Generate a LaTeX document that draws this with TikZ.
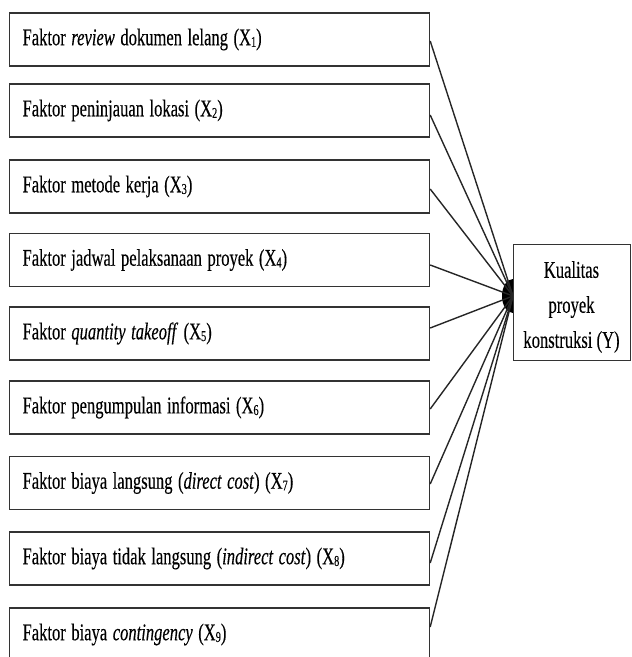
\documentclass[tikz,border=0pt]{standalone}
\usepackage{fontspec}
\usepackage{graphicx}
\setmainfont[FakeBold=0.3]{Liberation Serif}
\usetikzlibrary{shapes.geometric}
\newcommand{\xsub}[1]{\raisebox{-0.15ex}{\fontsize{15pt}{15pt}\selectfont #1}}
\newcommand{\sq}[1]{\scalebox{0.69}[1]{#1}}
\tikzset{
  factor/.style={draw=black!80, line width=1.2pt, anchor=west, minimum height=53pt,
    text width=394pt, inner xsep=13pt, align=left, font=\fontsize{24pt}{28pt}\selectfont},
  result/.style={draw=black!80, line width=1.2pt, fill=white, anchor=north west, minimum height=116pt,
    minimum width=117pt},
  resulttext/.style={align=center, inner sep=0pt, font=\fontsize{24pt}{35pt}\selectfont},
  link/.style={draw=black!85, line width=1.4pt}
}
\begin{document}
\begin{tikzpicture}[x=1pt,y=-1pt]
\useasboundingbox (0,0) rectangle (632,657);
\clip (0,0) rectangle (632,657);
\node[factor] (x1) at (9,39.5) {\sq{Faktor \textit{review} dokumen lelang (X\xsub{1})}};
\node[factor] (x2) at (9,110.5) {\sq{Faktor peninjauan lokasi (X\xsub{2})}};
\node[factor] (x3) at (9,186.5) {\sq{Faktor metode kerja (X\xsub{3})}};
\node[factor] (x4) at (9,260) {\sq{Faktor jadwal pelaksanaan proyek (X\xsub{4})}};
\node[factor] (x5) at (9,333.5) {\sq{Faktor \textit{quantity takeoff} (X\xsub{5})}};
\node[factor] (x6) at (9,407.5) {\sq{Faktor pengumpulan informasi (X\xsub{6})}};
\node[factor] (x7) at (9,483) {\sq{Faktor biaya langsung (\textit{direct cost}) (X\xsub{7})}};
\node[factor] (x8) at (9,558.5) {\sq{Faktor biaya tidak langsung (\textit{indirect cost}) (X\xsub{8})}};
\node[factor] (x9) at (9,634.5) {\sq{Faktor biaya \textit{contingency} (X\xsub{9})}};
\node[ellipse, fill=black, minimum width=22pt, minimum height=34pt, inner sep=0pt] (hub) at (513,296) {};
\foreach \n/\yy in {x1/41, x2/115, x3/189, x4/265, x5/328, x6/409, x7/484, x8/563, x9/627}{
  \draw[link] (\n.east |- 0,\yy) -- (hub.center);
}
\node[result] (y) at (513,244) {};
\node[resulttext] (ytext) at (571.5,307) {\sq{Kualitas}\\\sq{proyek}\\\sq{konstruksi (Y)}};
\end{tikzpicture}
\end{document}
